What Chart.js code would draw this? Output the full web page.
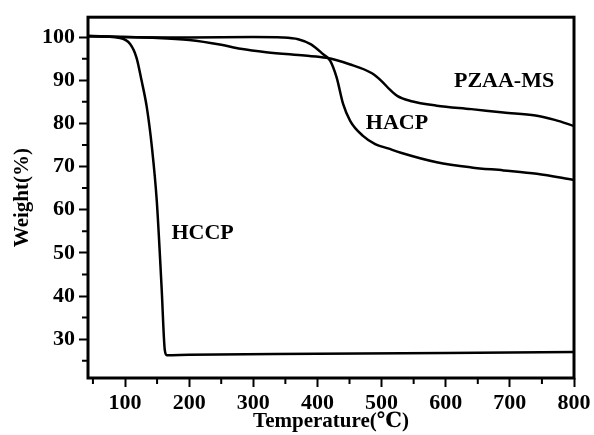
<!DOCTYPE html>
<html>
<head>
<meta charset="utf-8">
<script src="https://cdn.jsdelivr.net/npm/chart.js@4"></script>
<style>
  html, body { margin: 0; padding: 0; background: #fff; }
  #wrap { width: 594px; height: 435px; }
</style>
</head>
<body>
<div id="wrap"><canvas id="tga"></canvas></div>
<script>
// series (temperature in C, weight in %)
const hccpT = [42.3, 92, 108, 118, 126, 134, 142, 149.5, 157, 162, 165, 200, 400, 600, 800]
const hccpW = [100.2, 99.8, 98.4, 95.2, 89.8, 83.7, 74.4, 62.1, 42.1, 27.5, 26.3, 26.4, 26.6, 26.8, 27.0]

const hacpT = [42.3, 100, 200, 300, 346, 370, 390, 409, 420, 430, 440, 451, 471, 490, 510, 530, 586, 640, 690, 742, 800]
const hacpW = [100.3, 100, 99.9, 100, 99.9, 99.5, 98.3, 96, 94.5, 90.6, 84.5, 80.6, 77.1, 75.2, 74.2, 73.2, 71.0, 69.8, 69.1, 68.3, 66.9]

const pzaaT = [42.3, 100, 150, 200, 250, 280, 320, 380, 414, 450, 485, 500, 513, 525, 545, 586, 640, 690, 740, 770, 800]
const pzaaW = [100.2, 100, 99.8, 99.3, 98.2, 97.3, 96.5, 95.7, 95.2, 93.7, 91.6, 89.8, 87.8, 86.3, 85.2, 84.1, 83.3, 82.5, 81.8, 80.8, 79.4]

// axis ticks
const xMajor = [100, 200, 300, 400, 500, 600, 700, 800]
const xMinor = [50, 150, 250, 350, 450, 550, 650, 750]
const yMajor = [30, 40, 50, 60, 70, 80, 90, 100]
const yMinor = [25, 35, 45, 55, 65, 75, 85, 95]

// in-plot labels, placed in data coordinates
const labelTexts = ['PZAA-MS', 'HACP', 'HCCP']
const labelX = [691, 524, 221]
const labelY = [89.8, 80.1, 54.5]

const serif = "'Liberation Serif', 'DejaVu Serif', serif"

let toPoints = (xs, ys) => xs.map((x, i) => ({ x: x, y: ys[i] }))

function lineSet(name, xs, ys) {
    return {
        label: name,
        data: toPoints(xs, ys),
        borderColor: '#000',
        borderWidth: 2.5,
        pointRadius: 0,
        fill: false,
        cubicInterpolationMode: 'monotone'
    }
}

// frame, minor ticks and curve names
const decorations = {
    id: 'decorations',
    afterDraw(chart) {
        let ctx = chart.ctx
        let area = chart.chartArea
        let xs = chart.scales.x
        let ys = chart.scales.y
        ctx.save()
        ctx.strokeStyle = '#000'
        ctx.lineWidth = 2
        ctx.beginPath()
        xMinor.forEach(v => {
            let px = xs.getPixelForValue(v)
            ctx.moveTo(px, area.bottom)
            ctx.lineTo(px, area.bottom + 6)
        })
        yMinor.forEach(v => {
            let py = ys.getPixelForValue(v)
            ctx.moveTo(area.left, py)
            ctx.lineTo(area.left - 6, py)
        })
        ctx.stroke()

        ctx.lineWidth = 3
        ctx.strokeRect(area.left, area.top, area.right - area.left, area.bottom - area.top)

        ctx.fillStyle = '#000'
        ctx.font = "bold 22px " + serif
        ctx.textAlign = 'center'
        ctx.textBaseline = 'middle'
        labelTexts.forEach((t, i) => {
            ctx.fillText(t, xs.getPixelForValue(labelX[i]), ys.getPixelForValue(labelY[i]))
        })
        ctx.restore()
    }
}

new Chart(document.getElementById('tga'), {
    type: 'line',
    data: {
        datasets: [
            lineSet('HCCP', hccpT, hccpW),
            lineSet('HACP', hacpT, hacpW),
            lineSet('PZAA-MS', pzaaT, pzaaW)
        ]
    },
    options: {
        responsive: true,
        maintainAspectRatio: false,
        animation: false,
        layout: { padding: { top: 16, right: 20, left: 0, bottom: 0 } },
        plugins: {
            legend: { display: false },
            tooltip: { enabled: false }
        },
        scales: {
            x: {
                type: 'linear',
                min: 42.3,
                max: 800,
                afterBuildTicks: scale => { scale.ticks = xMajor.map(v => ({ value: v })) },
                afterFit: scale => { scale.height = 57 },
                border: { display: false },
                grid: { drawOnChartArea: false, tickLength: 9, tickWidth: 2, tickColor: '#000' },
                ticks: {
                    color: '#000',
                    padding: 3,
                    maxRotation: 0,
                    font: { family: serif, size: 22, weight: 'bold' }
                },
                title: {
                    display: true,
                    text: 'Temperature(℃)',
                    color: '#000',
                    padding: { top: 0, bottom: 1 },
                    font: { family: serif, size: 21, weight: 'bold' }
                }
            },
            y: {
                type: 'linear',
                min: 21,
                max: 104.6,
                afterBuildTicks: scale => { scale.ticks = yMajor.map(v => ({ value: v })) },
                afterFit: scale => { scale.width = 88 },
                border: { display: false },
                grid: { drawOnChartArea: false, tickLength: 9, tickWidth: 2, tickColor: '#000' },
                ticks: {
                    color: '#000',
                    padding: 4,
                    font: { family: serif, size: 22, weight: 'bold' }
                },
                title: {
                    display: true,
                    text: 'Weight(%)',
                    color: '#000',
                    padding: { top: 10, bottom: 0 },
                    font: { family: serif, size: 21, weight: 'bold' }
                }
            }
        }
    },
    plugins: [decorations]
})
</script>
</body>
</html>
